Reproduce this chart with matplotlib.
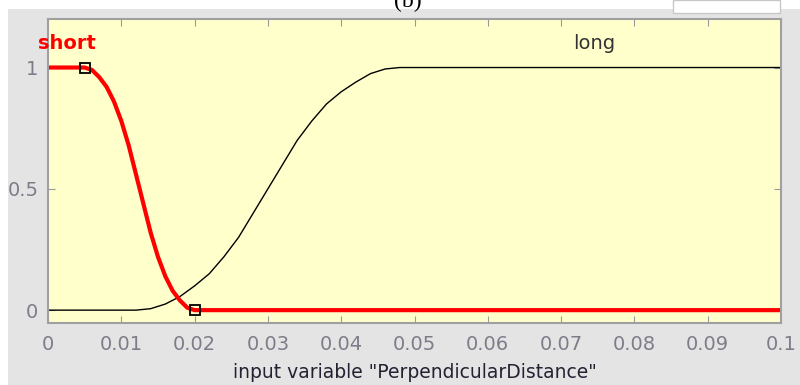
import matplotlib
matplotlib.use('Agg')
from matplotlib import pyplot as plt
from matplotlib.patches import Rectangle

plt.rcParams['font.family'] = ['DejaVu Sans']

# membership functions
short_x = [0, 0.005, 0.006, 0.007, 0.008, 0.009, 0.010, 0.011, 0.012, 0.013,
           0.014, 0.015, 0.016, 0.017, 0.018, 0.019, 0.020, 0.1]
short_y = [1, 1, 0.99, 0.96, 0.92, 0.86, 0.78, 0.68, 0.56, 0.44,
           0.32, 0.22, 0.14, 0.08, 0.04, 0.01, 0, 0]
long_x = [0, 0.012, 0.014, 0.016, 0.018, 0.020, 0.022, 0.024, 0.026, 0.028,
          0.030, 0.032, 0.034, 0.036, 0.038, 0.040, 0.042, 0.044, 0.046, 0.048, 0.1]
long_y = [0, 0, 0.006, 0.025, 0.056, 0.10, 0.15, 0.22, 0.30, 0.40,
          0.50, 0.60, 0.70, 0.78, 0.85, 0.90, 0.94, 0.975, 0.994, 1, 1]
# square markers on the short curve
mark_x = [0.005, 0.02]
mark_y = [1, 0]

xticks = [0, 0.01, 0.02, 0.03, 0.04, 0.05, 0.06, 0.07, 0.08, 0.09, 0.1]
xtick_labels = ['0', '0.01', '0.02', '0.03', '0.04', '0.05', '0.06', '0.07', '0.08', '0.09', '0.1']
yticks = [0, 0.5, 1]
ytick_labels = ['0', '0.5', '1']

fig = plt.figure(figsize=(8, 3.85), dpi=100, facecolor='white')
# grey panel behind the axes
fig.patches.append(Rectangle((8/800, 0), 1 - 8/800, 1 - 9/385, transform=fig.transFigure,
                             facecolor='#e4e4e4', edgecolor='none', zorder=-10))
# bit of a white box at the top right
fig.patches.append(Rectangle((673/800, 1 - 13/385), 107/800, 13/385, transform=fig.transFigure,
                             facecolor='white', edgecolor='#c8c8c8', lw=1, zorder=-9))
fig.text(408/800, 1 - 7/385, '(b)', family='Liberation Serif', fontsize=17,
         ha='center', va='baseline', zorder=-8)

ax = fig.add_axes([48/800, 1 - 323/385, 733/800, 304/385])
ax.set_facecolor('#ffffcc')
ax.plot(long_x, long_y, color='black', lw=1)
ax.plot(short_x, short_y, color='red', lw=3)
ax.plot(mark_x, mark_y, 's', ms=7, mfc='none', mec='black', mew=1.3)

ax.set_xlim(0, 0.1)
ax.set_ylim(-0.053, 1.2)
ax.set_xticks(xticks)
ax.set_xticklabels(xtick_labels)
ax.set_yticks(yticks)
ax.set_yticklabels(ytick_labels)
ax.tick_params(direction='in', length=5, color='#999999', labelcolor='#7d7d8a',
               labelsize=14, top=True, right=True)
ax.tick_params(axis='x', pad=9)
ax.tick_params(axis='y', pad=7)
for s in ax.spines.values():
    s.set_color('#a0a0a0')
    s.set_linewidth(1.5)

ax.text(0.0026, 1.1, 'short', color='red', fontweight='bold', fontsize=14,
        ha='center', va='center', clip_on=False)
ax.text(0.0745, 1.1, 'long', color='#333333', fontsize=14, ha='center', va='center')
ax.set_xlabel('input variable "PerpendicularDistance"', fontsize=13.5, color='#222233', labelpad=6)

plt.savefig('out.png', dpi=100, facecolor=fig.get_facecolor())
